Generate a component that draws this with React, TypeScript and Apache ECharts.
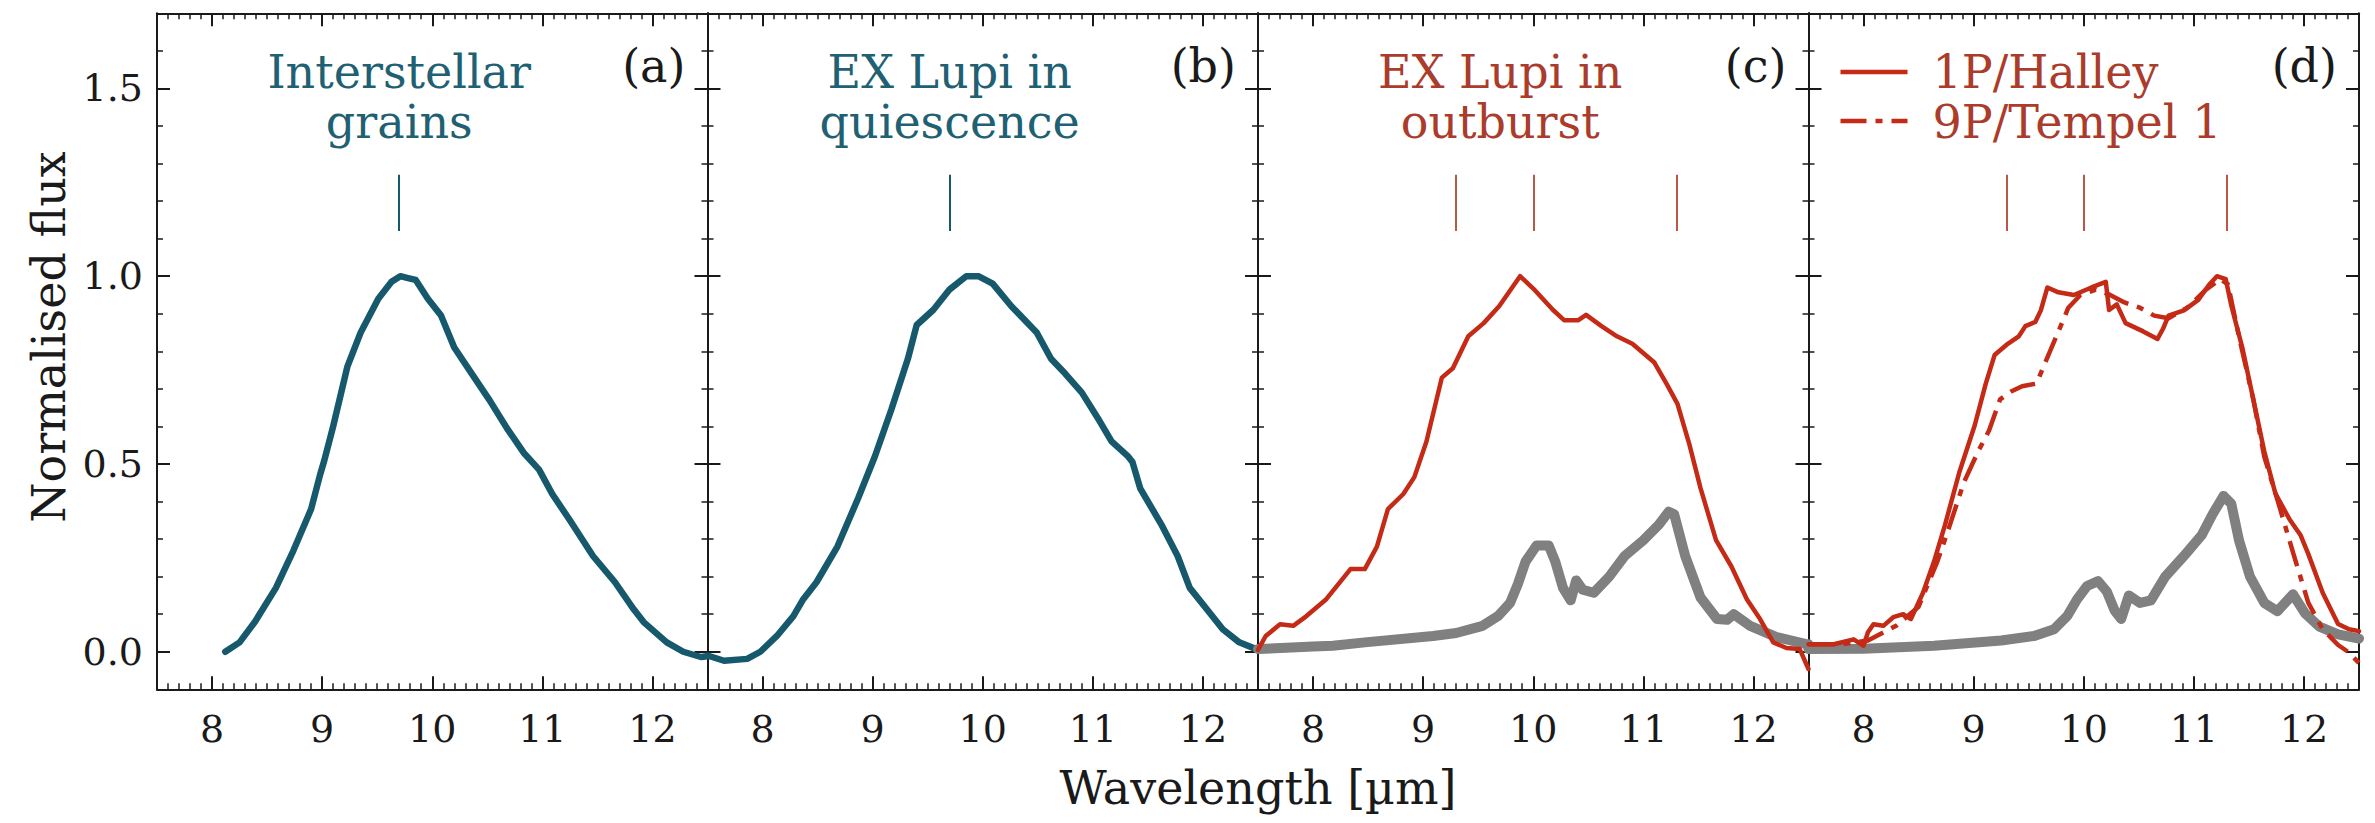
import { useEffect, useRef } from "react";
import * as echarts from "echarts";

// ---- colours & type ----
const TEAL = "#17596c";
const TEAL_TEXT = "#1f6173";
const RED = "#c42a16";
const RED_TEXT = "#ab3c2b";
const RED_MARK = "#b65a45";
const GREY = "#808080";
const INK = "#1a1a1a";
const FONT = "'DejaVu Serif', serif";

// ---- axes ----
const X_MIN = 7.5;
const X_MAX = 12.5;
const Y_MIN = -0.1;
const Y_MAX = 1.7;
const X_MAJOR = [8, 9, 10, 11, 12];
const Y_MAJOR = [0, 0.5, 1.0, 1.5];

// ---- spectra (wavelength in µm, normalised flux) ----
// (a) interstellar grains
const ismWave = [8.12, 8.25, 8.39, 8.58, 8.74, 8.9, 8.98, 9.02, 9.1, 9.23, 9.35, 9.51, 9.63, 9.71, 9.78, 9.85, 9.96, 10.08, 10.2, 10.36, 10.52, 10.69, 10.83, 10.97, 11.09, 11.25, 11.46, 11.66, 11.83, 11.92, 12.13, 12.28, 12.44, 12.5];
const ismFlux = [0.0, 0.025, 0.08, 0.17, 0.27, 0.38, 0.47, 0.51, 0.6, 0.76, 0.85, 0.94, 0.985, 1.0, 0.995, 0.99, 0.94, 0.895, 0.81, 0.74, 0.67, 0.59, 0.53, 0.485, 0.42, 0.35, 0.255, 0.185, 0.113, 0.079, 0.025, 0.0, -0.014, -0.012];

// (b) EX Lupi in quiescence
const quiWave = [7.5, 7.65, 7.86, 7.98, 8.13, 8.28, 8.37, 8.49, 8.68, 8.87, 9.02, 9.17, 9.32, 9.4, 9.55, 9.7, 9.85, 9.96, 10.09, 10.26, 10.49, 10.62, 10.75, 10.9, 11.06, 11.17, 11.32, 11.36, 11.43, 11.62, 11.77, 11.88, 12.03, 12.18, 12.33, 12.5];
const quiFlux = [-0.01, -0.024, -0.019, 0.0, 0.042, 0.095, 0.14, 0.185, 0.28, 0.41, 0.52, 0.645, 0.78, 0.87, 0.91, 0.965, 1.0, 1.0, 0.98, 0.92, 0.85, 0.78, 0.74, 0.69, 0.615, 0.56, 0.52, 0.505, 0.435, 0.34, 0.255, 0.17, 0.115, 0.06, 0.025, 0.005];

// (c) EX Lupi in outburst
const outWave = [7.5, 7.57, 7.7, 7.82, 7.94, 8.12, 8.34, 8.47, 8.58, 8.68, 8.82, 8.92, 9.03, 9.17, 9.27, 9.41, 9.55, 9.69, 9.88, 10.0, 10.18, 10.28, 10.41, 10.48, 10.62, 10.76, 10.9, 11.1, 11.21, 11.31, 11.42, 11.52, 11.66, 11.8, 11.94, 12.06, 12.18, 12.3, 12.42, 12.5];
const outFlux = [0.005, 0.042, 0.073, 0.069, 0.095, 0.14, 0.22, 0.22, 0.28, 0.38, 0.42, 0.465, 0.56, 0.73, 0.755, 0.84, 0.875, 0.92, 1.0, 0.967, 0.91, 0.883, 0.883, 0.897, 0.867, 0.84, 0.82, 0.77, 0.714, 0.66, 0.55, 0.435, 0.297, 0.227, 0.14, 0.087, 0.025, 0.01, 0.007, -0.046];

// (c) crystalline silicate reference
const crysCWave = [7.5, 8.0, 8.18, 8.47, 9.09, 9.3, 9.54, 9.68, 9.79, 9.86, 9.93, 10.03, 10.14, 10.2, 10.27, 10.34, 10.39, 10.45, 10.55, 10.69, 10.83, 11.0, 11.14, 11.23, 11.28, 11.38, 11.52, 11.67, 11.76, 11.82, 11.97, 12.21, 12.48, 12.5];
const crysCFlux = [0.007, 0.014, 0.016, 0.025, 0.042, 0.05, 0.069, 0.095, 0.13, 0.18, 0.24, 0.283, 0.283, 0.24, 0.17, 0.137, 0.19, 0.165, 0.157, 0.2, 0.255, 0.297, 0.338, 0.373, 0.366, 0.255, 0.144, 0.087, 0.085, 0.1, 0.069, 0.039, 0.02, 0.02];

// (d) 1P/Halley
const halleyWave = [7.5, 7.73, 7.91, 8.0, 8.04, 8.09, 8.18, 8.27, 8.36, 8.43, 8.54, 8.64, 8.74, 8.87, 9.01, 9.11, 9.19, 9.31, 9.41, 9.47, 9.56, 9.61, 9.67, 9.77, 9.91, 10.07, 10.2, 10.23, 10.3, 10.38, 10.54, 10.67, 10.72, 10.77, 10.91, 11.04, 11.14, 11.21, 11.29, 11.34, 11.44, 11.54, 11.64, 11.74, 11.87, 11.97, 12.04, 12.17, 12.31, 12.41, 12.5];
const halleyFlux = [0.02, 0.02, 0.033, 0.016, 0.052, 0.073, 0.069, 0.092, 0.1, 0.087, 0.157, 0.24, 0.338, 0.478, 0.603, 0.714, 0.79, 0.82, 0.84, 0.867, 0.878, 0.909, 0.97, 0.957, 0.95, 0.97, 0.985, 0.91, 0.925, 0.875, 0.853, 0.833, 0.86, 0.895, 0.909, 0.937, 0.978, 1.0, 0.992, 0.922, 0.81, 0.672, 0.533, 0.422, 0.352, 0.31, 0.26, 0.157, 0.074, 0.06, 0.055];

// (d) 9P/Tempel 1
const tempelWave = [7.5, 7.8, 8.04, 8.3, 8.5, 8.67, 8.77, 8.91, 9.04, 9.14, 9.24, 9.34, 9.44, 9.57, 9.67, 9.77, 9.86, 9.97, 10.11, 10.24, 10.37, 10.51, 10.64, 10.77, 10.94, 11.11, 11.24, 11.31, 11.41, 11.54, 11.64, 11.77, 11.91, 12.04, 12.17, 12.31, 12.4, 12.5];
const tempelFlux = [0.02, 0.02, 0.03, 0.07, 0.12, 0.24, 0.325, 0.45, 0.533, 0.589, 0.672, 0.693, 0.707, 0.714, 0.784, 0.853, 0.916, 0.95, 0.964, 0.95, 0.93, 0.916, 0.895, 0.888, 0.916, 0.964, 0.992, 0.978, 0.839, 0.672, 0.519, 0.394, 0.255, 0.13, 0.06, 0.018, 0.0, -0.03];

// (d) crystalline silicate reference
const crysDWave = [7.5, 8.0, 8.64, 9.25, 9.55, 9.73, 9.85, 9.94, 10.03, 10.13, 10.21, 10.28, 10.34, 10.41, 10.51, 10.61, 10.74, 10.91, 11.07, 11.17, 11.27, 11.34, 11.41, 11.51, 11.64, 11.76, 11.9, 12.01, 12.14, 12.31, 12.5];
const crysDFlux = [0.007, 0.008, 0.016, 0.03, 0.042, 0.06, 0.095, 0.14, 0.175, 0.188, 0.16, 0.11, 0.087, 0.15, 0.13, 0.137, 0.2, 0.255, 0.31, 0.366, 0.415, 0.394, 0.297, 0.2, 0.13, 0.108, 0.153, 0.102, 0.067, 0.046, 0.035];

// feature wavelengths marked above the spectra
const amorphousFeature = [9.7];
const crystallineFeatures = [9.3, 10.0, 11.3];
const FEATURE_LOW = 1.12;
const FEATURE_HIGH = 1.27;

// panel headings
const panelTitles = [
  ["Interstellar", "grains"],
  ["EX Lupi in", "quiescence"],
  ["EX Lupi in", "outburst"],
];
const panelTitleColors = [TEAL_TEXT, TEAL_TEXT, RED_TEXT];
const TITLE_ANCHOR = 9.7;
const panelLetters = ["(a)", "(b)", "(c)", "(d)"];
const legendLabels = ["1P/Halley", "9P/Tempel 1"];

// ---- layout (px) ----
const W = 2375;
const H = 823;
const GRID_LEFT = 157;
const GRID_TOP = 13.3;
const GRID_W = 550.5;
const GRID_H = 676;
const DASH_DOT = [26, 9, 7, 9];
const HEAD_SIZE = 46;

const pairs = (xs: number[], ys: number[]) => xs.map((x, i) => [x, ys[i]]);

function xAxesFor(i: number) {
  const base = {
    type: "value",
    gridIndex: i,
    min: X_MIN,
    max: X_MAX,
    splitLine: { show: false },
  };
  const spine = { show: true, onZero: false, lineStyle: { color: INK, width: 2 } };
  const major = { show: true, inside: true, length: 13, customValues: X_MAJOR, lineStyle: { color: INK, width: 2 } };
  const minor = { show: true, inside: true, length: 6, lineStyle: { color: INK, width: 1.5 } };
  return [
    {
      ...base,
      position: "bottom",
      axisLine: spine,
      axisTick: major,
      axisLabel: { show: true, customValues: X_MAJOR, margin: 21, fontSize: 38, fontFamily: FONT, color: INK },
    },
    { ...base, position: "bottom", interval: 0.1, axisLine: { show: false, onZero: false }, axisTick: minor, axisLabel: { show: false } },
    { ...base, position: "top", axisLine: spine, axisTick: major, axisLabel: { show: false } },
    { ...base, position: "top", interval: 0.1, axisLine: { show: false, onZero: false }, axisTick: minor, axisLabel: { show: false } },
  ];
}

function yAxesFor(i: number) {
  const base = {
    type: "value",
    gridIndex: i,
    min: Y_MIN,
    max: Y_MAX,
    splitLine: { show: false },
  };
  const spine = { show: true, onZero: false, lineStyle: { color: INK, width: 2 } };
  const major = { show: true, inside: true, length: 13, customValues: Y_MAJOR, lineStyle: { color: INK, width: 2 } };
  const minor = { show: true, inside: true, length: 6, lineStyle: { color: INK, width: 1.5 } };
  return [
    {
      ...base,
      position: "left",
      axisLine: spine,
      axisTick: major,
      axisLabel: {
        show: i === 0,
        customValues: Y_MAJOR,
        formatter: (v: number) => v.toFixed(1),
        margin: 14,
        fontSize: 38,
        fontFamily: FONT,
        color: INK,
      },
    },
    { ...base, position: "left", interval: 0.1, axisLine: { show: false, onZero: false }, axisTick: minor, axisLabel: { show: false } },
    { ...base, position: "right", axisLine: spine, axisTick: major, axisLabel: { show: false } },
    { ...base, position: "right", interval: 0.1, axisLine: { show: false, onZero: false }, axisTick: minor, axisLabel: { show: false } },
  ];
}

function featureMarks(features: number[], color: string) {
  return {
    silent: true,
    symbol: ["none", "none"],
    label: { show: false },
    emphasis: { disabled: true },
    lineStyle: { color, width: 2, type: "solid" },
    data: features.map((f) => [{ coord: [f, FEATURE_LOW] }, { coord: [f, FEATURE_HIGH] }]),
  };
}

function spectrum(panel: number, name: string, data: number[][], color: string, width: number, extra: any = {}) {
  return {
    type: "line",
    name,
    xAxisIndex: panel * 4,
    yAxisIndex: panel * 4,
    data,
    showSymbol: false,
    symbol: "none",
    lineStyle: { color, width, cap: "round", join: "round", ...(extra.lineStyle || {}) },
    emphasis: { disabled: true },
    ...Object.fromEntries(Object.entries(extra).filter(([k]) => k !== "lineStyle")),
  };
}

function buildOption() {
  const grids = [0, 1, 2, 3].map((i) => ({
    left: GRID_LEFT + i * GRID_W,
    top: GRID_TOP,
    width: GRID_W,
    height: GRID_H,
    containLabel: false,
  }));
  const xAxis = [0, 1, 2, 3].flatMap(xAxesFor);
  const yAxis = [0, 1, 2, 3].flatMap(yAxesFor);
  const series = [
    spectrum(0, "Interstellar grains", pairs(ismWave, ismFlux), TEAL, 6.5, { markLine: featureMarks(amorphousFeature, TEAL) }),
    spectrum(1, "EX Lupi quiescence", pairs(quiWave, quiFlux), TEAL, 6.5, { markLine: featureMarks(amorphousFeature, TEAL) }),
    spectrum(2, "Crystalline (c)", pairs(crysCWave, crysCFlux), GREY, 10),
    spectrum(2, "EX Lupi outburst", pairs(outWave, outFlux), RED, 4.5, { markLine: featureMarks(crystallineFeatures, RED_MARK) }),
    spectrum(3, "Crystalline (d)", pairs(crysDWave, crysDFlux), GREY, 10),
    spectrum(3, "9P/Tempel 1", pairs(tempelWave, tempelFlux), RED, 4.5, { lineStyle: { type: DASH_DOT, cap: "butt" } }),
    spectrum(3, "1P/Halley", pairs(halleyWave, halleyFlux), RED, 4.5, { markLine: featureMarks(crystallineFeatures, RED_MARK) }),
  ];
  return {
    animation: false,
    backgroundColor: "#ffffff",
    grid: grids,
    xAxis,
    yAxis,
    series,
  };
}

// vertical centre of a text line whose baseline sits at `baseline`
const mid = (baseline: number, size: number) => baseline - 0.35 * size;

function textEl(text: string, x: number, y: number, size: number, fill: string, align: string, extra: any = {}) {
  return {
    type: "text",
    x,
    y,
    silent: true,
    ...extra,
    style: { text, fontSize: size, fontFamily: FONT, fill, align, verticalAlign: "middle" },
  };
}

function buildGraphic(chart: echarts.ECharts) {
  const els: any[] = [];
  panelTitles.forEach((lines, i) => {
    const cx = chart.convertToPixel({ xAxisIndex: i * 4 }, TITLE_ANCHOR) as number;
    els.push(textEl(lines[0], cx, mid(88, HEAD_SIZE), HEAD_SIZE, panelTitleColors[i], "center"));
    els.push(textEl(lines[1], cx, mid(138, HEAD_SIZE), HEAD_SIZE, panelTitleColors[i], "center"));
  });
  panelLetters.forEach((t, i) => {
    const right = GRID_LEFT + (i + 1) * GRID_W - 22;
    els.push(textEl(t, right, mid(82, 46), 46, INK, "right"));
  });
  // legend in panel (d)
  const lx = GRID_LEFT + 3 * GRID_W;
  els.push({
    type: "line",
    silent: true,
    shape: { x1: lx + 32, y1: 72, x2: lx + 99, y2: 72 },
    style: { stroke: RED, lineWidth: 4.5 },
  });
  els.push({
    type: "line",
    silent: true,
    shape: { x1: lx + 32, y1: 121, x2: lx + 99, y2: 121 },
    style: { stroke: RED, lineWidth: 4.5, lineDash: DASH_DOT },
  });
  els.push(textEl(legendLabels[0], lx + 124, mid(88, HEAD_SIZE), HEAD_SIZE, RED_TEXT, "left"));
  els.push(textEl(legendLabels[1], lx + 124, mid(138, HEAD_SIZE), HEAD_SIZE, RED_TEXT, "left"));
  // shared axis titles
  els.push(textEl("Wavelength [µm]", GRID_LEFT + 2 * GRID_W, mid(804, 46), 46, INK, "center"));
  els.push(textEl("Normalised flux", 49, 337, 46, INK, "center", { rotation: Math.PI / 2 }));
  return els;
}

export default function App() {
  const ref = useRef<HTMLDivElement>(null);
  useEffect(() => {
    if (!ref.current) return;
    const chart = echarts.init(ref.current, null, { renderer: "svg", width: W, height: H });
    chart.setOption(buildOption() as any);
    chart.setOption({ graphic: buildGraphic(chart) } as any);
    return () => chart.dispose();
  }, []);
  return (
    <div
      ref={ref}
      style={{ position: "fixed", left: 0, top: 0, width: W, height: H, background: "#ffffff" }}
    />
  );
}
